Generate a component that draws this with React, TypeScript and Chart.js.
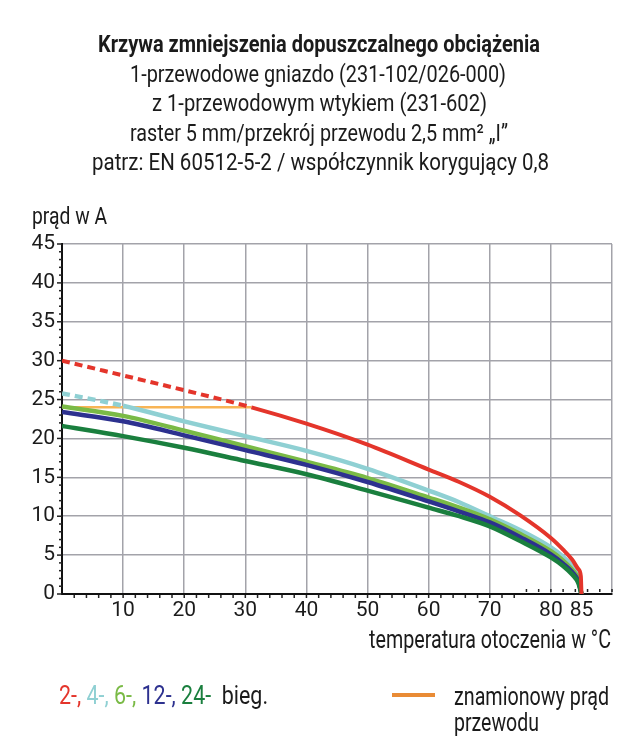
import { useEffect, useRef } from "react";
import { Chart, registerables } from "chart.js";

Chart.register(...registerables);

// ---- data ----
const temperatures = [0, 10, 20, 30, 40, 50, 60, 65, 70, 75, 80, 82, 83.5, 84.5, 85];
const redTemps = [0, 10, 20, 31, 40, 50, 60, 65, 70, 75, 80, 82, 83.5, 84.5, 84.9, 85];
const pole2 = [30.0, 28.1, 26.2, 24.0, 21.9, 19.2, 16.0, 14.4, 12.5, 10.1, 7.2, 5.7, 4.4, 3.2, 2.3, 0];
const pole4 = [25.8, 24.2, 22.2, 20.3, 18.4, 16.1, 13.3, 11.8, 10.0, 8.2, 6.0, 4.8, 3.6, 2.3, 0];
const pole6 = [24.1, 22.9, 21.0, 19.0, 17.0, 14.9, 12.4, 11.1, 9.6, 7.7, 5.5, 4.3, 3.1, 1.9, 0];
const pole12 = [23.4, 22.2, 20.4, 18.5, 16.6, 14.4, 11.9, 10.6, 9.2, 7.3, 5.1, 3.9, 2.8, 1.6, 0];
const pole24 = [21.6, 20.3, 18.8, 17.1, 15.4, 13.3, 11.1, 10.0, 8.7, 6.8, 4.7, 3.6, 2.5, 1.4, 0];
const ratedTemps = [0, 31];
const ratedCurrent = [24, 24];
const redDashedUntil = 31;
const lightBlueDashedUntil = 10;
const xTickValues = [0, 10, 20, 30, 40, 50, 60, 70, 80, 85, 90];
const yTickMax = 45;

const titleLines = [
  "Krzywa zmniejszenia dopuszczalnego obciążenia",
  "1-przewodowe gniazdo (231-102/026-000)",
  "z 1-przewodowym wtykiem (231-602)",
  "raster 5 mm/przekrój przewodu 2,5 mm² „I”",
  "patrz: EN 60512-5-2 / współczynnik korygujący 0,8",
];
const yAxisTitle = "prąd w A";
const xAxisTitle = "temperatura otoczenia w °C";
const legendParts = ["2-,", " 4-,", " 6-,", " 12-,", " 24-", "  bieg."];
const ratedLegend = ["znamionowy prąd", "przewodu"];

// ---- styles ----
const FONT = 'Roboto, "Noto Sans", "Liberation Sans", sans-serif';
const C_RED = "#e4352b";
const C_LBLUE = "#8fd0d3";
const C_GREEN = "#7aba46";
const C_BLUE = "#2d318f";
const C_DGREEN = "#1a7f3e";
const C_ORANGE = "#f8b455";
const C_ORANGE_LEG = "#e98b35";
const C_GRID = "#a3a3aa";
const C_TEXT = "#1b1b1b";
const legendColors = [C_RED, C_LBLUE, C_GREEN, C_BLUE, C_DGREEN, C_TEXT];

const toPoints = (xs: number[], ys: number[]) => xs.map((x, i) => ({ x, y: ys[i] }));

let measureCtx: CanvasRenderingContext2D | null = null;
function textWidth(text: string, size: number, weight: string) {
  if (!measureCtx) measureCtx = document.createElement("canvas").getContext("2d");
  if (!measureCtx) return 1;
  measureCtx.font = `${weight} ${size}px ${FONT}`;
  return measureCtx.measureText(text).width || 1;
}

function FitText(props: {
  text: string;
  left: number;
  width: number;
  cy: number;
  size: number;
  bold?: boolean;
  parts?: string[];
  colors?: string[];
}) {
  const weight = props.bold ? "bold" : "normal";
  const natural = textWidth(props.text, props.size, weight);
  const s = props.width / natural;
  return (
    <div
      style={{
        position: "absolute",
        left: props.left,
        top: props.cy - 15,
        height: 30,
        lineHeight: "30px",
        fontFamily: FONT,
        fontSize: props.size,
        fontWeight: weight as any,
        color: C_TEXT,
        whiteSpace: "pre",
        transform: `scaleX(${s})`,
        transformOrigin: "left center",
      }}
    >
      {props.parts
        ? props.parts.map((p, i) => (
            <span key={i} style={{ color: props.colors ? props.colors[i] : C_TEXT }}>
              {p}
            </span>
          ))
        : props.text}
    </div>
  );
}

const minorTicks = {
  id: "minorTicks",
  afterDraw(chart: any) {
    const { ctx, scales } = chart;
    const x = scales.x;
    const y = scales.y;
    ctx.save();
    ctx.fillStyle = "#222";
    for (let v = 0; v <= yTickMax; v++) {
      const py = y.getPixelForValue(v);
      const len = v % 5 === 0 ? 5 : 3;
      ctx.fillRect(x.left - len, py - 0.75, len, 1.5);
    }
    for (let v = 2; v <= 90; v += 2) {
      const px = x.getPixelForValue(v);
      if (v < 75) ctx.fillRect(px - 0.75, y.bottom + 1, 1.5, 3);
      else ctx.fillRect(px - 0.75, y.bottom - 5, 1.5, 3);
    }
    ctx.restore();
  },
};

function DeratingChart() {
  const ref = useRef<HTMLCanvasElement | null>(null);
  useEffect(() => {
    if (!ref.current) return;
    const common = {
      pointRadius: 0,
      fill: false,
      cubicInterpolationMode: "monotone" as const,
      borderCapStyle: "butt" as const,
    };
    const chart = new Chart(ref.current, {
      type: "line",
      data: {
        datasets: [
          {
            ...common,
            label: "2",
            data: toPoints(redTemps, pole2),
            borderColor: C_RED,
            borderWidth: 4,
            order: 0,
            segment: {
              borderDash: (c: any) => (c.p1.parsed.x <= redDashedUntil ? [8, 5] : undefined),
            },
          },
          {
            ...common,
            label: "24",
            data: toPoints(temperatures, pole24),
            borderColor: C_DGREEN,
            borderWidth: 4.5,
            order: 1,
          },
          {
            ...common,
            label: "12",
            data: toPoints(temperatures, pole12),
            borderColor: C_BLUE,
            borderWidth: 4.5,
            order: 2,
          },
          {
            ...common,
            label: "6",
            data: toPoints(temperatures, pole6),
            borderColor: C_GREEN,
            borderWidth: 4.5,
            order: 3,
          },
          {
            ...common,
            label: "4",
            data: toPoints(temperatures, pole4),
            borderColor: C_LBLUE,
            borderWidth: 4.5,
            order: 4,
            segment: {
              borderDash: (c: any) => (c.p1.parsed.x <= lightBlueDashedUntil ? [8, 5] : undefined),
            },
          },
          {
            ...common,
            label: "rated",
            data: toPoints(ratedTemps, ratedCurrent),
            borderColor: C_ORANGE,
            borderWidth: 2.5,
            order: 5,
          },
        ],
      },
      options: {
        responsive: false,
        animation: false,
        layout: { padding: { left: 0, top: 244, right: 24, bottom: 112 } },
        plugins: { legend: { display: false }, tooltip: { enabled: false }, title: { display: false } },
        scales: {
          x: {
            type: "linear",
            min: 0,
            max: 90,
            afterFit: (s: any) => {
              s.height = 40;
            },
            afterBuildTicks: (s: any) => {
              s.ticks = xTickValues.map((v) => ({ value: v }));
            },
            grid: {
              color: (c: any) => (c.tick && c.tick.value === 85 ? "rgba(0,0,0,0)" : C_GRID),
              lineWidth: 1.5,
              drawTicks: false,
            },
            border: { color: "#111", width: 2 },
            ticks: {
              autoSkip: false,
              maxRotation: 0,
              padding: 4,
              color: C_TEXT,
              font: { family: FONT, size: 21 },
              callback: (v: any) => (v === 0 || v === 90 ? "" : String(v)),
            },
          },
          y: {
            min: 0,
            max: yTickMax,
            afterFit: (s: any) => {
              s.width = 62;
            },
            grid: { color: C_GRID, lineWidth: 1.5, drawTicks: false },
            border: { color: "#111", width: 2 },
            ticks: {
              stepSize: 5,
              padding: 7,
              color: C_TEXT,
              font: { family: FONT, size: 21 },
            },
          },
        },
      },
      plugins: [minorTicks],
    } as any);
    return () => chart.destroy();
  }, []);
  return (
    <canvas
      ref={ref}
      width={636}
      height={746}
      style={{ position: "absolute", left: 0, top: 0, width: 636, height: 746 }}
    />
  );
}

export default function App() {
  const titleBoxes = [
    { left: 98, width: 442, cy: 44 },
    { left: 130, width: 376, cy: 74 },
    { left: 152, width: 335, cy: 103 },
    { left: 130, width: 378, cy: 133 },
    { left: 92, width: 457, cy: 162 },
  ];
  return (
    <div style={{ position: "absolute", left: 0, top: 0, width: 636, height: 746, background: "#fff", overflow: "hidden" }}>
      <DeratingChart />
      {titleLines.map((t, i) => (
        <FitText key={i} text={t} size={24} bold={i === 0} {...titleBoxes[i]} />
      ))}
      <FitText text={yAxisTitle} left={32} width={75} cy={216} size={24} />
      <FitText text={xAxisTitle} left={369} width={242} cy={640} size={25} />
      <FitText
        text={legendParts.join("")}
        parts={legendParts}
        colors={legendColors}
        left={59}
        width={209}
        cy={696}
        size={25}
      />
      <div style={{ position: "absolute", left: 392, top: 693, width: 43, height: 4, background: C_ORANGE_LEG }} />
      <FitText text={ratedLegend[0]} left={454} width={155} cy={697} size={25} />
      <FitText text={ratedLegend[1]} left={454} width={85} cy={723} size={25} />
    </div>
  );
}
